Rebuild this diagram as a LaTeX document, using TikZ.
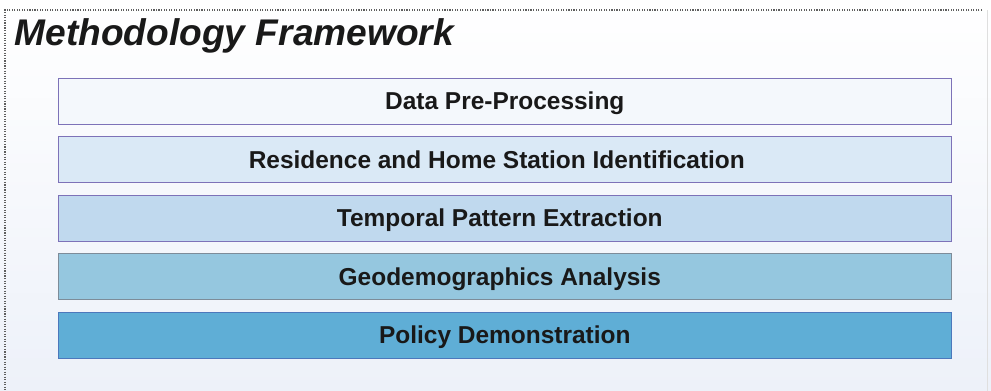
\documentclass[tikz,border=0pt]{standalone}
\usepackage{fontspec}
\setmainfont{Liberation Sans}
\usetikzlibrary{positioning}
\definecolor{frameline}{HTML}{5E5E5E}
\definecolor{bgbottom}{HTML}{EDF1F9}
\definecolor{edgepurple}{HTML}{7D72B8}
\definecolor{edgegray}{HTML}{7D8C99}
\definecolor{edgeblue}{HTML}{4C78BC}
\definecolor{stepone}{HTML}{F4F8FC}
\definecolor{steptwo}{HTML}{DAE9F6}
\definecolor{stepthree}{HTML}{C0D9EE}
\definecolor{stepfour}{HTML}{95C7DF}
\definecolor{stepfive}{HTML}{5FAED6}

\begin{document}
\begin{tikzpicture}
\tikzset{stage/.style={draw,line width=0.6pt,rectangle,minimum width=22.33cm,minimum height=1.15cm,
  inner sep=0pt,text height=12.5pt,text depth=0pt,font=\fontsize{17.4}{20}\selectfont\bfseries,text=black!90}}
\tikzset{titletext/.style={font=\fontsize{26.4}{30}\selectfont\bfseries\itshape,text=black!90,inner sep=0pt}}
	% background and frame
	\useasboundingbox (0,0) rectangle (24.775,-9.75);
	\shade[top color=white, bottom color=bgbottom] (0,0) rectangle (24.775,-9.75);
	\draw[frameline,densely dotted,thick] (24.55,-0.25) -- (0.125,-0.25) -- (0.125,-9.8);
	\draw[gray!25] (24.675,-0.25) -- (24.675,-9.8);
	\node[titletext,anchor=base west] (title) at (0.36,-1.13) {Methodology Framework};
	% stages
	\node[stage,draw=edgepurple,fill=stepone] (prep) at (12.62,-2.53) {Data Pre-Processing};
	\node[stage,draw=edgepurple,fill=steptwo,below=0.29cm of prep] (home) {\hspace*{-0.4cm}Residence and Home Station Identification};
	\node[stage,draw=edgepurple,fill=stepthree,below=0.29cm of home] (temporal) {\hspace*{-0.25cm}Temporal Pattern Extraction};
	\node[stage,draw=edgegray,fill=stepfour,below=0.29cm of temporal] (geo) {\hspace*{-0.25cm}Geodemographics Analysis};
	\node[stage,draw=edgeblue,fill=stepfive,below=0.29cm of geo] (policy) {Policy Demonstration};
\end{tikzpicture}
\end{document}
